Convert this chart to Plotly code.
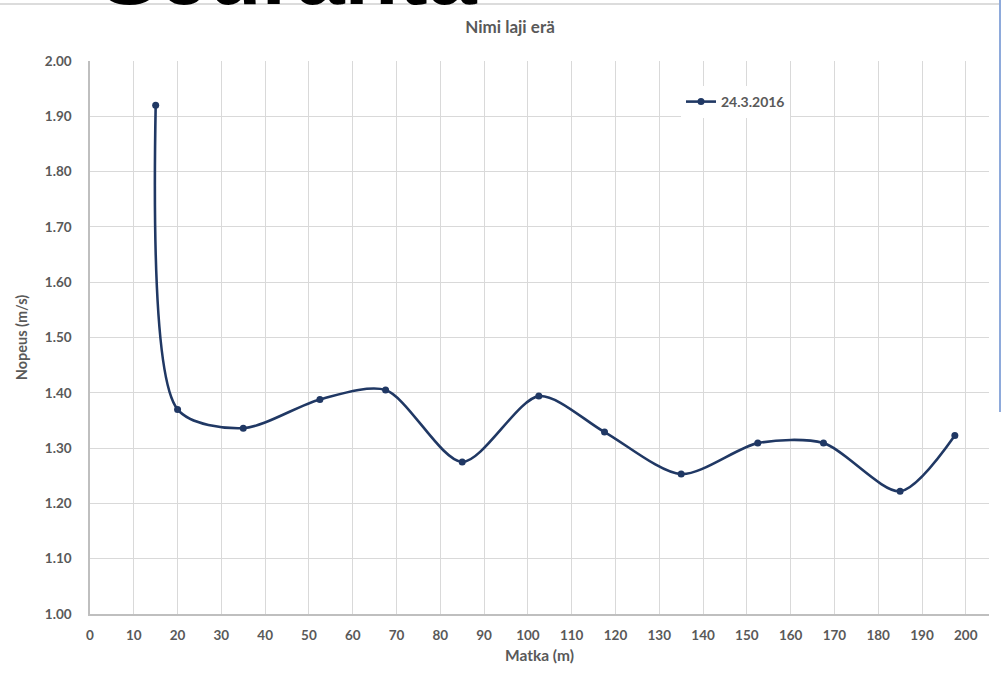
import plotly.graph_objects as go

distance_m = [15, 20, 35, 52.5, 67.5, 85, 102.5, 117.5, 135, 152.5, 167.5, 185, 197.5]
speed_ms = [1.92, 1.37, 1.336, 1.388, 1.405, 1.275, 1.394, 1.329, 1.253, 1.309, 1.309, 1.222, 1.323]
series_name = "24.3.2016"
x_ticks = list(range(0, 201, 10))
y_ticks = [1.0 + i * 0.1 for i in range(11)]

W, H = 1002, 673
L, R, T, B = 90, 13, 61, 59
pw = W - L - R
ph = H - T - B

def px_x(p):
    return (p - L) / pw

def px_y(p):
    return (H - B - p) / ph

gray = "#595959"
navy = "#203864"
font = "Lato, 'Open Sans', sans-serif"

fig = go.Figure()
fig.add_trace(go.Scatter(
    x=distance_m, y=speed_ms, name=f"<b>{series_name}</b>", mode="lines+markers",
    line=dict(color=navy, width=2.6, shape="spline", smoothing=0.8),
    marker=dict(color=navy, size=7),
))

fig.update_layout(
    width=W, height=H,
    margin=dict(l=L, r=R, t=T, b=B),
    paper_bgcolor="white", plot_bgcolor="white",
    font=dict(family=font, color=gray, size=12),
    title=dict(text="<b>Nimi laji erä</b>", x=px_x(510), xref="paper", xanchor="center",
               y=1 - 27 / H, yanchor="middle", font=dict(size=17, color=gray)),
    showlegend=True,
    legend=dict(x=px_x(681), y=px_y(102), xanchor="left", yanchor="middle",
                bgcolor="white", font=dict(size=14, color=gray, family=font),
                itemwidth=30, tracegroupgap=0),
    xaxis=dict(range=[0, 205.3], tickvals=x_ticks, ticktext=[f"<b>{v}</b>" for v in x_ticks],
               showgrid=True, gridcolor="#d9d9d9", gridwidth=1,
               showline=True, linecolor="#bfbfbf", linewidth=1.5,
               zeroline=False, ticks="", ticklabelstandoff=8,
               tickfont=dict(size=13.5),
               title=dict(text="<b>Matka (m)</b>", font=dict(size=15.5, color=gray), standoff=8)),
    yaxis=dict(range=[1.0, 2.0], tickvals=y_ticks, ticktext=[f"<b>{v:.2f}</b>" for v in y_ticks],
               showgrid=True, gridcolor="#d9d9d9", gridwidth=1,
               showline=True, linecolor="#bfbfbf", linewidth=1.5,
               zeroline=False, ticks="", ticklabelstandoff=14,
               tickfont=dict(size=13.5),
               title=dict(text="<b>Nopeus (m/s)</b>", font=dict(size=14.5, color=gray), standoff=14)),
)

# stray elements of the screenshot: gray top rule, blue vertical edge, cut-off large heading
fig.add_annotation(text="<b>Seuranta</b>", xref="paper", yref="paper", x=px_x(98), y=px_y(28),
                   xanchor="left", yanchor="bottom", showarrow=False, yshift=3,
                   font=dict(size=88, color="black", family="'Liberation Sans', Arial, sans-serif"))
fig.add_shape(type="line", xref="paper", yref="paper", x0=px_x(0), x1=px_x(1000),
              y0=px_y(4), y1=px_y(4), line=dict(color="#d0d0d0", width=1.5))
fig.add_shape(type="line", xref="paper", yref="paper", x0=px_x(1000), x1=px_x(1000),
              y0=px_y(412), y1=px_y(0), line=dict(color="#8eaadb", width=2))

fig.write_html("out.html", config={"displayModeBar": False},
               post_script="document.body.style.margin='0';document.body.style.overflow='hidden';")
